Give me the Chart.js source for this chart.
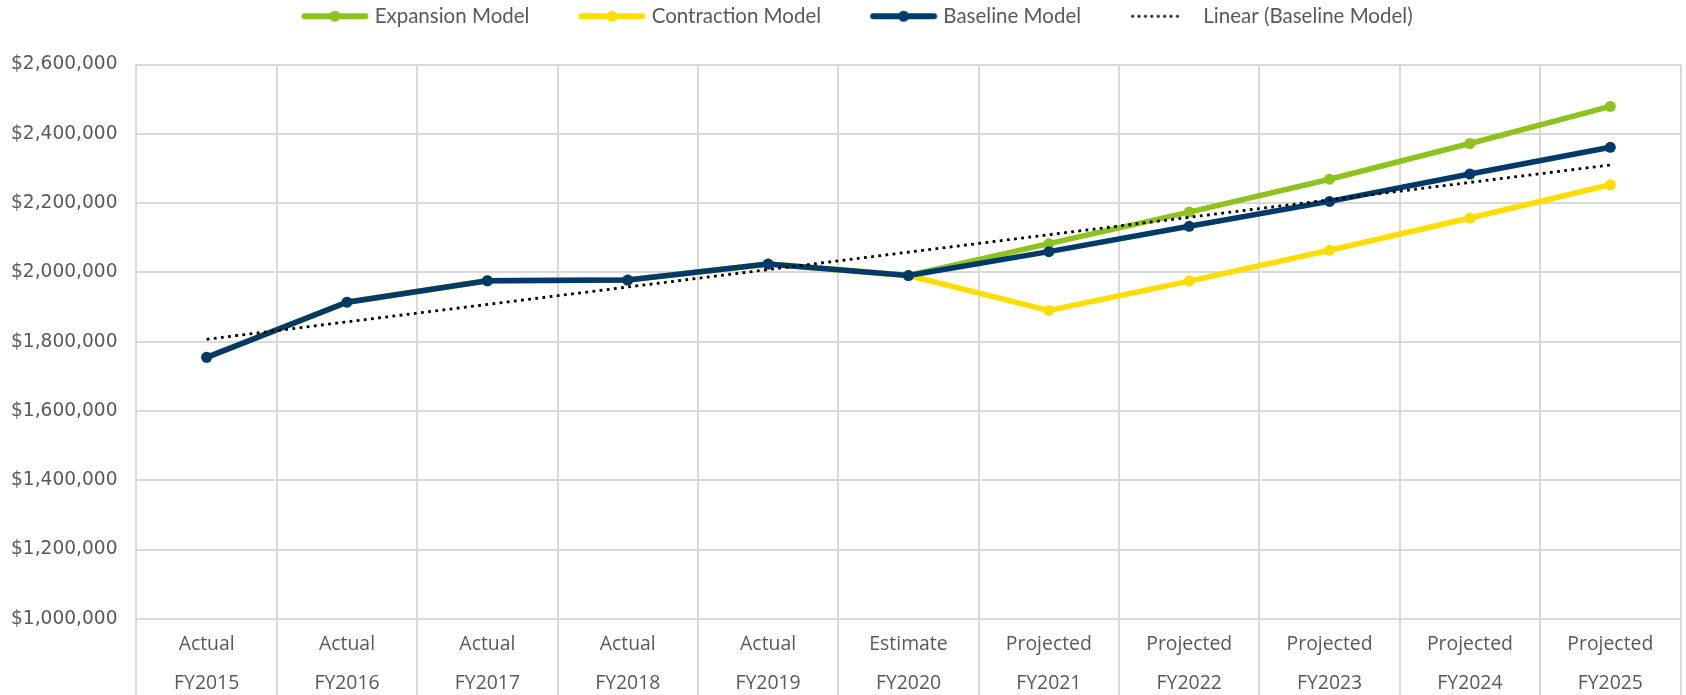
<!DOCTYPE html>
<html>
<head>
<meta charset="utf-8">
<title>Revenue Models</title>
<script src="https://cdn.jsdelivr.net/npm/chart.js@4.4.0/dist/chart.umd.min.js"></script>
<style>
  html, body { margin: 0; padding: 0; background: #fff; }
  #wrap { width: 1686px; height: 695px; position: relative; }
</style>
</head>
<body>
<div id="wrap"><canvas id="modelChart"></canvas></div>
<script>
// === Data ===
const categories = [
  ["Actual", "FY2015"], ["Actual", "FY2016"], ["Actual", "FY2017"], ["Actual", "FY2018"],
  ["Actual", "FY2019"], ["Estimate", "FY2020"], ["Projected", "FY2021"], ["Projected", "FY2022"],
  ["Projected", "FY2023"], ["Projected", "FY2024"], ["Projected", "FY2025"]
];
const expansionValues = [1755000, 1914000, 1976000, 1978000, 2024000, 1991000, 2083000, 2174000, 2269000, 2372000, 2479000];
const contractionValues = [1755000, 1914000, 1976000, 1978000, 2024000, 1991000, 1890000, 1975000, 2064000, 2157000, 2253000];
const baselineValues = [1755000, 1914000, 1976000, 1978000, 2024000, 1991000, 2060000, 2133000, 2205000, 2284000, 2361000];
// trendline end points, middle left empty
const trendValues = [1807000, null, null, null, null, null, null, null, null, null, 2310000];
const yMin = 1000000;
const yMax = 2600000;
const yStep = 200000;

const GREEN = "#8DC21F";
const YELLOW = "#FFDD00";
const BLUE = "#003A6B";
const GRID = "#D9D9D9";
const TEXT = "#595959";

// legend symbols (line + marker), drawn at the right end of a wider canvas
function makeIcon(color, dotted) {
  const c = document.createElement("canvas");
  c.width = 116;
  c.height = 14;
  const g = c.getContext("2d");
  if (dotted) {
    g.fillStyle = "#000";
    for (let x = 47; x <= 93; x += 6.4) {
      g.beginPath();
      g.arc(x, 7, 1.5, 0, Math.PI * 2);
      g.fill();
    }
  } else {
    g.strokeStyle = color;
    g.lineWidth = 6;
    g.lineCap = "round";
    g.beginPath();
    g.moveTo(47.5, 7);
    g.lineTo(108.5, 7);
    g.stroke();
    g.fillStyle = color;
    g.beginPath();
    g.arc(78, 7, 5.5, 0, Math.PI * 2);
    g.fill();
  }
  return c;
}
const legendIcons = [makeIcon(GREEN), makeIcon(YELLOW), makeIcon(BLUE), makeIcon("#000", true)];

// extra space under the legend
const legendGap = {
  id: "legendGap",
  beforeInit(chart) {
    const origFit = chart.legend.fit;
    chart.legend.fit = function fit() {
      origFit.bind(chart.legend)();
      this.height += 28;
    };
  }
};

// category divider lines carried down through the label area
const dividerLines = {
  id: "dividerLines",
  afterDraw(chart) {
    const x = chart.scales.x;
    const g = chart.ctx;
    g.save();
    g.strokeStyle = GRID;
    g.lineWidth = 2;
    for (let i = 0; i <= categories.length; i++) {
      const px = Math.round(x.getPixelForValue(i - 0.5));
      g.beginPath();
      g.moveTo(px, chart.chartArea.bottom);
      g.lineTo(px, chart.height);
      g.stroke();
    }
    g.restore();
  }
};

const lineStyle = (color) => ({
  borderColor: color,
  backgroundColor: color,
  pointBackgroundColor: color,
  pointBorderWidth: 0,
  pointRadius: 5.5,
  borderWidth: 5.5,
  tension: 0,
  fill: false
});

const ctx = document.getElementById("modelChart").getContext("2d");
const modelChart = new Chart(ctx, {
  type: "line",
  data: {
    labels: categories,
    datasets: [
      { label: "Expansion Model", data: expansionValues, order: 3, ...lineStyle(GREEN) },
      { label: "Contraction Model", data: contractionValues, order: 2, ...lineStyle(YELLOW) },
      { label: "Baseline Model", data: baselineValues, order: 1, ...lineStyle(BLUE) },
      {
        label: "Linear (Baseline Model)",
        data: trendValues,
        order: 0,
        borderColor: "#000",
        backgroundColor: "#000",
        borderWidth: 2.8,
        borderDash: [2.8, 4.4],
        pointRadius: 0,
        spanGaps: true,
        fill: false
      }
    ]
  },
  options: {
    responsive: true,
    maintainAspectRatio: false,
    animation: false,
    layout: { padding: { left: -8, right: 0, top: -7, bottom: -14 } },
    plugins: {
      tooltip: { enabled: false },
      legend: {
        position: "top",
        align: "center",
        labels: {
          usePointStyle: true,
          pointStyleWidth: 99,
          boxHeight: 14,
          padding: 13,
          color: TEXT,
          font: { family: "Lato", size: 20.5 },
          generateLabels(chart) {
            const items = Chart.defaults.plugins.legend.labels.generateLabels(chart);
            items.sort((a, b) => a.datasetIndex - b.datasetIndex);
            items.forEach((it) => {
              it.pointStyle = legendIcons[it.datasetIndex];
              it.lineWidth = 0;
            });
            return items;
          }
        }
      }
    },
    scales: {
      x: {
        offset: true,
        grid: { offset: true, color: GRID, lineWidth: 2, drawTicks: false },
        border: { display: false },
        ticks: {
          padding: 7,
          color: TEXT,
          maxRotation: 0,
          autoSkip: false,
          font: { family: "Open Sans", size: 19.4, lineHeight: 1.96 }
        }
      },
      y: {
        min: yMin,
        max: yMax,
        grid: { color: GRID, lineWidth: 2, drawTicks: false },
        border: { display: false },
        ticks: {
          stepSize: yStep,
          padding: 19,
          color: TEXT,
          font: { family: "DejaVu Sans", size: 18.6 },
          callback: (v) => "$" + Number(v).toLocaleString("en-US")
        }
      }
    }
  },
  plugins: [legendGap, dividerLines]
});
</script>
</body>
</html>
